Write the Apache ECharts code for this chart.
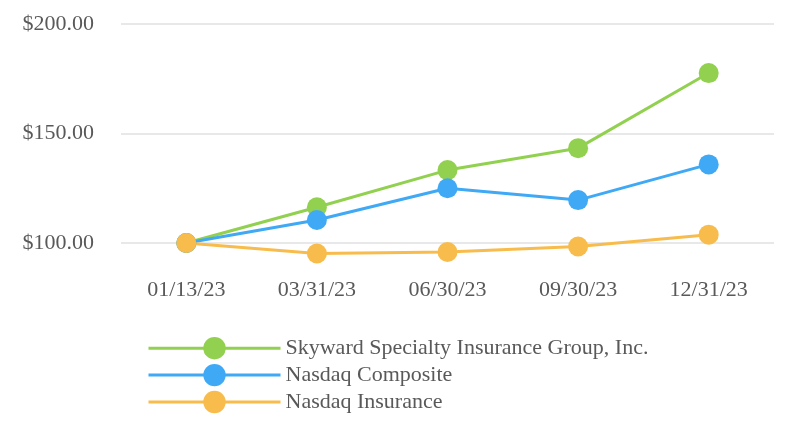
<!DOCTYPE html>
<html>
<head>
<meta charset="utf-8">
<script src="https://cdn.jsdelivr.net/npm/echarts@6/dist/echarts.min.js"></script>
<style>
  html, body { margin: 0; padding: 0; background: #fff; }
  #chart { width: 800px; height: 447px; }
</style>
</head>
<body>
<div id="chart"></div>
<script>
var dates = ['01/13/23', '03/31/23', '06/30/23', '09/30/23', '12/31/23'];
var seriesNames = ['Skyward Specialty Insurance Group, Inc.', 'Nasdaq Composite', 'Nasdaq Insurance'];
var skyward = [100, 116.3, 133.3, 143.3, 177.6];
var nasdaqComposite = [100, 110.5, 125.0, 119.6, 135.9];
var nasdaqInsurance = [100, 95.2, 95.9, 98.4, 103.8];
var colors = ['#92d050', '#3fa9f5', '#f8bc4c'];

var font = 'Liberation Serif';
var textColor = '#595959';

function makeSeries(name, data, color) {
  return {
    name: name,
    type: 'line',
    data: data,
    clip: false,
    symbol: 'circle',
    symbolSize: 20,
    itemStyle: { color: color },
    lineStyle: { color: color, width: 3 },
    emphasis: { disabled: true }
  };
}

var chart = echarts.init(document.getElementById('chart'));
chart.setOption({
  animation: false,
  backgroundColor: '#fff',
  grid: { left: 121, right: 26, top: 24, bottom: 204 },
  legend: {
    orient: 'vertical',
    left: 147,
    top: 337,
    padding: 0,
    itemWidth: 132,
    itemHeight: 28,
    itemGap: 4.5,
    lineStyle: { width: 3 },
    textStyle: { fontFamily: font, fontSize: 22, color: textColor },
    data: seriesNames
  },
  xAxis: {
    type: 'category',
    data: dates,
    axisLine: { show: false },
    axisTick: { show: false },
    axisLabel: { margin: 36, fontFamily: font, fontSize: 22, color: textColor }
  },
  yAxis: {
    type: 'value',
    min: 100,
    max: 200,
    interval: 50,
    axisLine: { show: false },
    axisTick: { show: false },
    axisLabel: {
      margin: 27,
      fontFamily: font,
      fontSize: 22,
      color: textColor,
      formatter: function (v) { return '$' + v.toFixed(2); }
    },
    splitLine: { lineStyle: { color: '#e0e0e0', width: 1.5 } }
  },
  series: [
    makeSeries(seriesNames[0], skyward, colors[0]),
    makeSeries(seriesNames[1], nasdaqComposite, colors[1]),
    makeSeries(seriesNames[2], nasdaqInsurance, colors[2])
  ]
});
</script>
</body>
</html>
